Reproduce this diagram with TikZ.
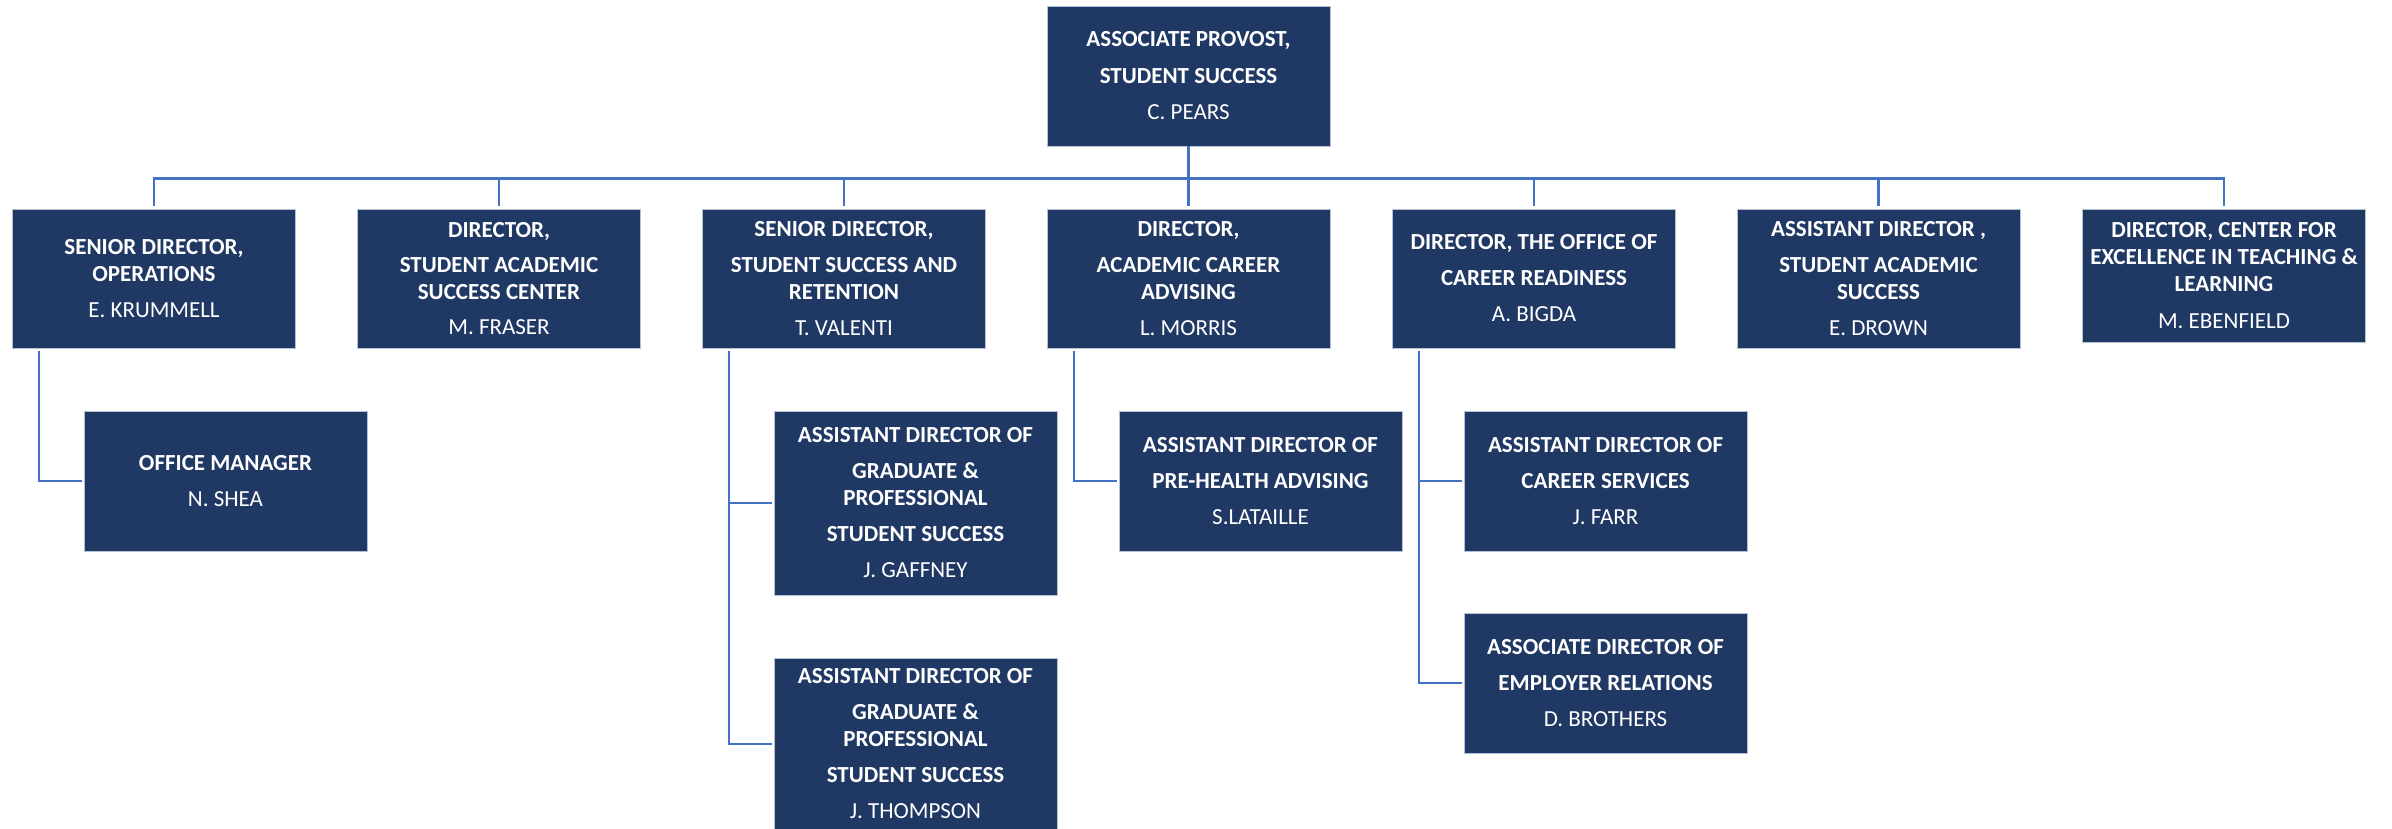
\documentclass[tikz,border=0pt]{standalone}
\usepackage{fontspec}
\setmainfont{Carlito}
\definecolor{navy}{HTML}{203864}
\definecolor{edge}{HTML}{B4C0D4}
\definecolor{link}{HTML}{4472C4}
\begin{document}
\begin{tikzpicture}[x=1pt,y=-1pt,
  box/.style={rectangle,fill=navy,draw=edge,line width=0.8pt,text=white,align=center,
    inner sep=0pt,minimum width=283pt,minimum height=139pt,
    font=\bfseries\fontsize{23}{27}\selectfont},
  conn/.style={draw=link,line width=2.2pt},
  nm/.style={}]
\useasboundingbox (0,0) rectangle (2392,829);
\newcommand{\pn}[1]{{\mdseries #1}}
% top
\node[box,minimum height=140pt] (top) at (1188.5,76) {ASSOCIATE PROVOST,\\[10pt]STUDENT SUCCESS\\[9pt]\pn{C. PEARS}};
% row 1
\node[box] (b1) at (154,278.5) {SENIOR DIRECTOR,\\OPERATIONS\\[9pt]\pn{E. KRUMMELL}};
\node[box] (b2) at (499,278.5) {DIRECTOR,\\[8pt]STUDENT ACADEMIC\\SUCCESS CENTER\\[8pt]\pn{M. FRASER}};
\node[box] (b3) at (844,278.5) {SENIOR DIRECTOR,\\[9pt]STUDENT SUCCESS AND\\RETENTION\\[9pt]\pn{T. VALENTI}};
\node[box] (b4) at (1188.5,278.5) {DIRECTOR,\\[9pt]ACADEMIC CAREER\\ADVISING\\[9pt]\pn{L. MORRIS}};
\node[box] (b5) at (1534,278.5) {DIRECTOR, THE OFFICE OF\\[9pt]CAREER READINESS\\[9pt]\pn{A. BIGDA}};
\node[box] (b6) at (1878.5,278.5) {ASSISTANT DIRECTOR ,\\[9pt]STUDENT ACADEMIC\\SUCCESS\\[9pt]\pn{E. DROWN}};
\node[box,minimum height=133pt] (b7) at (2224,275.5) {DIRECTOR, CENTER FOR\\EXCELLENCE IN TEACHING \&\\LEARNING\\[10pt]\pn{M. EBENFIELD}};
% row 2
\node[box,minimum height=140pt] (om) at (225.5,481) {OFFICE MANAGER\\[9pt]\pn{N. SHEA}};
\node[box,minimum height=184pt] (gaf) at (915.5,503) {ASSISTANT DIRECTOR OF\\[9pt]GRADUATE \&\\PROFESSIONAL\\[9pt]STUDENT SUCCESS\\[9pt]\pn{J. GAFFNEY}};
\node[box,minimum height=172pt] (tho) at (915.5,744) {ASSISTANT DIRECTOR OF\\[9pt]GRADUATE \&\\PROFESSIONAL\\[9pt]STUDENT SUCCESS\\[9pt]\pn{J. THOMPSON}};
\node[box,minimum height=140pt] (phl) at (1260.5,481) {ASSISTANT DIRECTOR OF\\[9pt]PRE-HEALTH ADVISING\\[9pt]\pn{S.LATAILLE}};
\node[box,minimum height=140pt] (far) at (1605.5,481) {ASSISTANT DIRECTOR OF\\[9pt]CAREER SERVICES\\[9pt]\pn{J. FARR}};
\node[box,minimum height=140pt] (bro) at (1605.5,683) {ASSOCIATE DIRECTOR OF\\[9pt]EMPLOYER RELATIONS\\[9pt]\pn{D. BROTHERS}};
% connectors
\coordinate (bus) at (1188.5,178.5);
\draw[conn] (top.south) -- (bus);
\foreach \b in {b1,b2,b3,b4,b5,b6,b7}
  \draw[conn,shorten >=3pt] (bus) -| (\b.north);
\draw[conn,shorten <=3pt,shorten >=2pt] ([xshift=27pt]b1.south west) |- (om.west);
\draw[conn,shorten <=3pt,shorten >=2pt] ([xshift=27pt]b3.south west) |- (gaf.west);
\draw[conn,shorten <=3pt,shorten >=2pt] ([xshift=27pt]b3.south west) |- (tho.west);
\draw[conn,shorten <=3pt,shorten >=2pt] ([xshift=27pt]b4.south west) |- (phl.west);
\draw[conn,shorten <=3pt,shorten >=2pt] ([xshift=27pt]b5.south west) |- (far.west);
\draw[conn,shorten <=3pt,shorten >=2pt] ([xshift=27pt]b5.south west) |- (bro.west);
\end{tikzpicture}
\end{document}
